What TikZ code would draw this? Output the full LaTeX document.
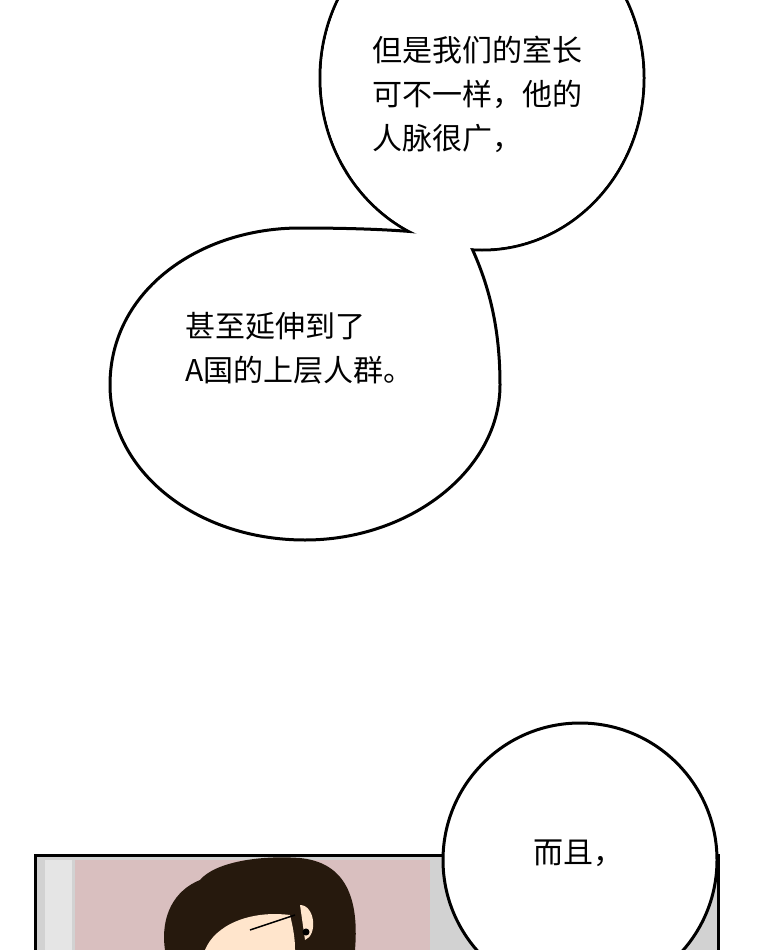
\documentclass[tikz,border=0pt]{standalone}
\usepackage{fontspec}
\newfontfamily\cjk{Noto Sans CJK SC}
\begin{document}
\begin{tikzpicture}[x=1pt,y=-1pt,
  bub/.style={draw=black,line width=3pt,fill=white},
  txt/.style={font=\cjk\fontsize{30}{44}\selectfont,align=left,anchor=north west,inner sep=0pt}]
\useasboundingbox (0,0) rectangle (760,950);
\fill[white] (0,0) rectangle (760,950);
% panel
\fill[gray!35] (35,855) rectangle (718,950);
\fill[red!25!gray!40] (75,860) rectangle (430,950);
\fill[gray!20] (45,860) rectangle (72,950);
% hair
\fill[black!80!brown] (165,950) .. controls (160,915) and (175,890) .. (200,880)
  .. controls (215,862) and (260,855) .. (300,858)
  .. controls (340,862) and (360,890) .. (355,950) -- cycle;
\fill[orange!20!white] (205,950) .. controls (215,925) and (250,910) .. (290,915)
  .. controls (295,935) and (295,945) .. (295,950) -- cycle;
\fill[orange!20!white] (300,905) .. controls (315,905) and (318,935) .. (305,940) -- cycle;
\draw[line width=1.5pt] (250,930) -- (295,915);
\node[fill=black,circle,inner sep=2.5pt] (ey) at (306,932) {};
\draw[line width=3pt] (35,855) rectangle (718,953);
% bubble 1 and 2
\path[bub] (482,78) ellipse (162 and 172);
\path[bub] (347,172) -- (335,120) -- (400,140) -- cycle;
\path[bub] (110,385) .. controls (110,290) and (200,228) .. (300,228)
  .. controls (380,228) and (440,232) .. (468,240)
  .. controls (490,285) and (500,330) .. (500,385)
  .. controls (500,470) and (410,540) .. (305,540)
  .. controls (195,540) and (110,470) .. (110,385) -- cycle;
\fill[white] (482,78) ellipse (160.5 and 170.5);
\fill[white] (345,164) -- (338,125) -- (400,140) -- cycle;
% bubble 3
\path[bub] (580,860) ellipse (137 and 137);
% texts
\node[txt] (t1) at (372,36) {但是我们的室长\\可不一样，他的\\人脉很广，};
\node[txt] (t2) at (185,312) {甚至延伸到了\\A国的上层人群。};
\node[txt,anchor=center] (t3) at (578,853) {而且，};
\end{tikzpicture}
\end{document}
